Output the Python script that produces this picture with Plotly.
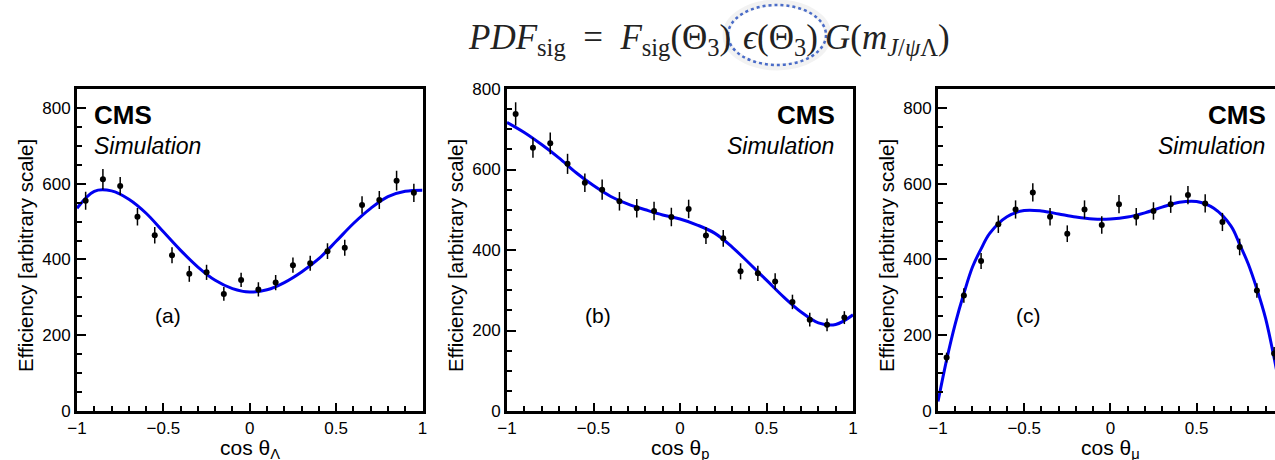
import plotly.graph_objects as go

W, H = 1275, 460

# Bin centres shared by the three efficiency histograms
bin_centres = [-0.95, -0.85, -0.75, -0.65, -0.55, -0.45, -0.35, -0.25, -0.15, -0.05,
               0.05, 0.15, 0.25, 0.35, 0.45, 0.55, 0.65, 0.75, 0.85, 0.95]

# (a) cos theta_Lambda
eff_a = [555, 612, 594, 513, 464, 411, 362, 366, 309, 346,
         321, 339, 385, 390, 422, 431, 544, 557, 608, 576]
err_a = [24, 27, 24, 23, 22, 21, 21, 20, 18, 19,
         19, 20, 20, 20, 21, 21, 23, 24, 26, 24]

# (b) cos theta_p
eff_b = [738, 654, 665, 614, 567, 550, 521, 504, 497, 482,
         502, 436, 429, 347, 342, 322, 271, 227, 214, 232]
err_b = [29, 25, 27, 25, 23, 25, 23, 23, 23, 23,
         23, 21, 21, 20, 19, 20, 18, 17, 16, 16]

# (c) cos theta_mu
eff_c = [141, 305, 396, 493, 532, 577, 513, 468, 532, 491,
         546, 513, 528, 546, 570, 548, 499, 433, 318, 152]
err_c = [13, 19, 21, 23, 24, 24, 23, 22, 24, 23,
         24, 23, 23, 23, 24, 24, 24, 22, 19, 17]

# Fitted efficiency curves, sampled along cos theta
fit_x_ab = [-1.0, -0.9, -0.8, -0.7, -0.6, -0.5, -0.4, -0.3, -0.2, -0.1, 0.0,
            0.1, 0.2, 0.3, 0.4, 0.5, 0.6, 0.7, 0.8, 0.9, 1.0]
fit_a = [535, 580, 581, 559, 522, 473, 424, 380, 345, 323, 314,
         320, 339, 367, 402, 448, 495, 535, 566, 580, 583]
fit_b = [717, 692, 662, 629, 592, 560, 533, 514, 500, 487, 477,
         462, 442, 408, 367, 325, 283, 246, 219, 215, 239]
fit_x_c = [-1.0, -0.95, -0.9, -0.85, -0.8, -0.75, -0.7, -0.6, -0.5, -0.4, -0.3,
           -0.2, -0.1, 0.0, 0.1, 0.2, 0.3, 0.4, 0.5, 0.6, 0.7, 0.75, 0.8,
           0.85, 0.9, 0.95, 1.0]
fit_c = [25, 135, 230, 310, 380, 428, 469, 513, 529, 528, 520,
         512, 507, 507, 512, 523, 538, 551, 553, 535, 488, 440, 388,
         322, 245, 140, 20]

panel_tags = ["(a)", "(b)", "(c)"]
x_titles = ["cos θ<sub>Λ</sub>", "cos θ<sub>p</sub>", "cos θ<sub>μ</sub>"]
y_title = "Efficiency [arbitrary scale]"
y_ranges = [[0, 850], [0, 800], [0, 850]]
x_ranges = [[-1, 1], [-1, 1], [-1, 0.955]]

# Panel frames in pixels (left, right); shared top/bottom
frames = [(77, 422.5), (507, 853), (938, 1275)]
top_px, bottom_px = 89, 411


def px(x):
    return x / W


def py(y):
    return 1 - y / H


SANS = "Liberation Sans, Arial, Helvetica, sans-serif"
SERIF = "Liberation Serif, Times New Roman, serif"
BLUE = "#0000f0"

fig = go.Figure()
datasets = [(eff_a, err_a, fit_x_ab, fit_a), (eff_b, err_b, fit_x_ab, fit_b),
            (eff_c, err_c, fit_x_c, fit_c)]

for i, (eff, err, fx, fy) in enumerate(datasets):
    sfx = "" if i == 0 else str(i + 1)
    fig.add_trace(go.Scatter(
        x=fx, y=fy, mode="lines", line=dict(color=BLUE, width=3, shape="spline", smoothing=1.0),
        xaxis="x" + sfx, yaxis="y" + sfx, showlegend=False, hoverinfo="skip"))
    fig.add_trace(go.Scatter(
        x=bin_centres, y=eff, mode="markers",
        marker=dict(color="black", size=6),
        error_y=dict(type="data", array=err, color="black", thickness=1.5, width=0),
        xaxis="x" + sfx, yaxis="y" + sfx, showlegend=False))

layout = dict(
    width=W, height=H, margin=dict(l=0, r=0, t=0, b=0, pad=0), autosize=False,
    paper_bgcolor="white", plot_bgcolor="white",
    font=dict(family=SANS, color="black"),
)

annotations = []
for i, ((l, r), xr, yr) in enumerate(zip(frames, x_ranges, y_ranges)):
    sfx = "" if i == 0 else str(i + 1)
    last = i == 2
    layout["xaxis" + sfx] = dict(
        domain=[px(l), px(r)], range=xr, anchor="y" + sfx, automargin=False,
        showline=True, linewidth=3, linecolor="black", mirror=True,
        ticks="inside", ticklen=8, tickwidth=1.5, tickcolor="black",
        dtick=0.5, tick0=0, showgrid=False, zeroline=False,
        tickfont=dict(size=17, family=SANS),
        minor=dict(ticks="inside", dtick=0.1, tick0=0, ticklen=5, tickwidth=1.5, tickcolor="black",
                   showgrid=False),
    )
    layout["yaxis" + sfx] = dict(
        domain=[py(bottom_px), py(top_px)], range=yr, anchor="x" + sfx, automargin=False,
        showline=True, linewidth=3, linecolor="black", mirror=not last,
        ticks="inside", ticklen=9, tickwidth=1.5, tickcolor="black",
        dtick=200, tick0=0, showgrid=False, zeroline=False,
        tickfont=dict(size=17, family=SANS),
        minor=dict(ticks="inside", dtick=50, tick0=0, ticklen=5, tickwidth=1.5, tickcolor="black",
                   showgrid=False),
    )

    # axis titles
    annotations.append(dict(
        text=y_title, textangle=-90, x=px(l - 52), y=py(256), xref="paper", yref="paper",
        xanchor="center", yanchor="middle", showarrow=False, font=dict(size=20.5, family=SANS)))
    annotations.append(dict(
        text=x_titles[i], x=0, xref="x" + sfx, y=py(449), yref="paper",
        xanchor="center", yanchor="middle", showarrow=False, font=dict(size=21, family=SANS)))

    # panel tag
    annotations.append(dict(
        text=panel_tags[i], x=px(l + 90.5), y=py(315), xref="paper", yref="paper",
        xanchor="center", yanchor="middle", showarrow=False, font=dict(size=21, family=SANS)))

# CMS / Simulation labels
label_pos = [("left", 92, 92), ("right", 837, 836), ("right", 1268, 1267)]
for anchor, xc, xs in label_pos:
    annotations.append(dict(
        text="<b>CMS</b>", x=px(xc), y=py(115), xref="paper", yref="paper",
        xanchor=anchor, yanchor="middle", showarrow=False, font=dict(size=26, family=SANS)))
    annotations.append(dict(
        text="<i>Simulation</i>", x=px(xs), y=py(146), xref="paper", yref="paper",
        xanchor=anchor, yanchor="middle", showarrow=False, font=dict(size=23, family=SANS)))

# Signal PDF formula above the panels, in three pieces around the highlighted factor
formula_left = "<i>PDF</i><sub>sig</sub>\u2002=\u2002<i>F</i><sub>sig</sub>(Θ<sub>3</sub>)"
formula_mid = "<i>ϵ</i>(Θ<sub>3</sub>)"
formula_right = "<i>G</i>(<i>m</i><sub><i>J</i>/<i>ψ</i>Λ</sub>)"
formula_font = dict(size=35, family=SERIF, color="#222")
for text, xpos, anchor in [(formula_left, 733, "right"), (formula_mid, 780, "center"),
                           (formula_right, 823, "left")]:
    annotations.append(dict(
        text=text, x=px(xpos), y=py(40), xref="paper", yref="paper",
        xanchor=anchor, yanchor="middle", showarrow=False, font=formula_font))

layout["annotations"] = annotations
layout["shapes"] = [
    dict(type="circle", xref="paper", yref="paper",
         x0=px(726), x1=px(828), y0=py(67), y1=py(3),
         line=dict(color="rgba(0,0,0,0.05)", width=7)),
    dict(type="circle", xref="paper", yref="paper",
         x0=px(728), x1=px(826), y0=py(65), y1=py(5),
         line=dict(color="#4a6cc8", width=2.5, dash="dot")),
]

fig.update_layout(**layout)
fig.write_html("out.html")
